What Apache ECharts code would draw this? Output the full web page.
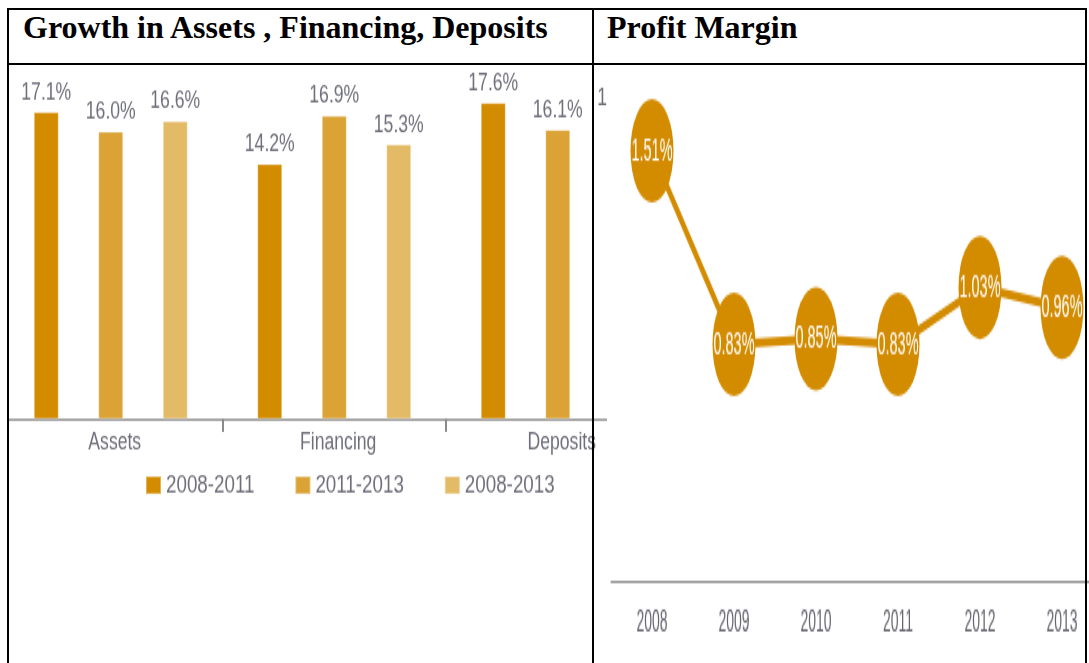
<!DOCTYPE html>
<html>
<head>
<meta charset="utf-8">
<script src="https://cdn.jsdelivr.net/npm/echarts@6/dist/echarts.min.js"></script>
<style>
  html, body { margin: 0; padding: 0; background: #fff; }
  body { width: 1089px; height: 663px; position: relative; overflow: hidden; }
  .line { position: absolute; background: #000; z-index: 10; }
  .head {
    position: absolute; top: 11px; line-height: 32px; font-size: 32px; font-weight: bold;
    font-family: "Liberation Serif", "Times New Roman", serif; color: #000;
    white-space: nowrap; z-index: 10;
  }
  /* the source charts are stretched pictures, so the canvases are stretched too */
  #growth { position: absolute; left: 9px; top: 66px; width: 598px; height: 442px;
    transform: scaleY(1.35); transform-origin: left top; z-index: 2; }
  #margin { position: absolute; left: 595px; top: 66px; width: 494px; height: 272px;
    transform: scaleY(2.2); transform-origin: left top; z-index: 1; }
</style>
</head>
<body>
<div class="line" style="left:7px;top:8px;width:1080px;height:2px"></div>
<div class="line" style="left:7px;top:63px;width:1080px;height:2px"></div>
<div class="line" style="left:7px;top:8px;width:2px;height:655px"></div>
<div class="line" style="left:592px;top:8px;width:2px;height:655px"></div>
<div class="line" style="left:1085px;top:8px;width:2px;height:655px"></div>
<div class="head" style="left:23px">Growth in Assets , Financing, Deposits</div>
<div class="head" style="left:607px">Profit Margin</div>

<div id="growth"></div>
<div id="margin"></div>

<script>
// 左图：增长率
const categories = ['Assets', 'Financing', 'Deposits'];
const periods = ['2008-2011', '2011-2013', '2008-2013'];
const growth0811 = [17.1, 14.2, 17.6];
const growth1113 = [16.0, 16.9, 16.1];
const growth0813 = [16.6, 15.3, 16.8];

// 右图：利润率
const years = ['2008', '2009', '2010', '2011', '2012', '2013'];
const profitMargin = [1.51, 0.83, 0.85, 0.83, 1.03, 0.96];

const barColors = ['#D38B00', '#DBA236', '#E3BA66'];
const gold = '#D38B00';
const textGray = '#6f6f7b';
const axisGray = '#8a8a8a';
const fontFamily = 'Liberation Sans, Arial, sans-serif';

function barSeries(name, data, color) {
  return {
    name: name,
    type: 'bar',
    data: data,
    barWidth: 25,
    barGap: '158%',
    itemStyle: {color: color, borderColor: 'rgba(255,255,255,0.35)', borderWidth: 1},
    label: {
      show: true,
      position: 'top',
      distance: 5,
      color: textGray,
      fontSize: 17.6,
      fontFamily: fontFamily,
      formatter: p => p.value.toFixed(1) + '%'
    }
  };
}

const growthChart = echarts.init(document.getElementById('growth'));
growthChart.setOption({
  animation: false,
  color: barColors,
  grid: {left: -10, top: 22, width: 670.5, height: 239.5, outerBoundsMode: 'none'},
  legend: {
    data: periods,
    left: 131,
    top: 296,
    icon: 'rect',
    itemWidth: 15,
    itemHeight: 13,
    itemGap: 40,
    textStyle: {color: textGray, fontSize: 18.8, fontFamily: fontFamily}
  },
  xAxis: {
    type: 'category',
    data: categories,
    axisLine: {lineStyle: {color: axisGray, width: 1.5}},
    axisTick: {show: true, length: 9.6, lineStyle: {color: axisGray, width: 2}},
    axisLabel: {color: textGray, fontSize: 17.6, fontFamily: fontFamily, margin: 9, padding: [0, 0, 0, 8]}
  },
  yAxis: {type: 'value', min: 0, max: 18, show: false},
  series: [
    barSeries(periods[0], growth0811, barColors[0]),
    barSeries(periods[1], growth1113, barColors[1]),
    barSeries(periods[2], growth0813, barColors[2])
  ]
});

const marginChart = echarts.init(document.getElementById('margin'));
marginChart.setOption({
  animation: false,
  grid: {left: 16, top: 1, width: 492, height: 238.1, outerBoundsMode: 'none'},
  xAxis: {
    type: 'category',
    data: years,
    axisLine: {lineStyle: {color: axisGray, width: 1}},
    axisTick: {show: false},
    axisLabel: {color: '#66666f', fontSize: 14, fontFamily: fontFamily, margin: 6.7}
  },
  // 底部留一点空，让横轴线落在零点下方
  yAxis: {type: 'value', min: -0.04, max: 1.8, show: false},
  series: [{
    name: 'Profit Margin',
    type: 'line',
    data: profitMargin,
    symbol: 'circle',
    symbolSize: [43, 47],
    lineStyle: {color: gold, width: 4},
    itemStyle: {color: gold},
    label: {
      show: true,
      position: 'inside',
      color: '#fff',
      fontSize: 14.5,
      fontFamily: fontFamily,
      formatter: p => p.value.toFixed(2) + '%'
    }
  }]
});
</script>
</body>
</html>
